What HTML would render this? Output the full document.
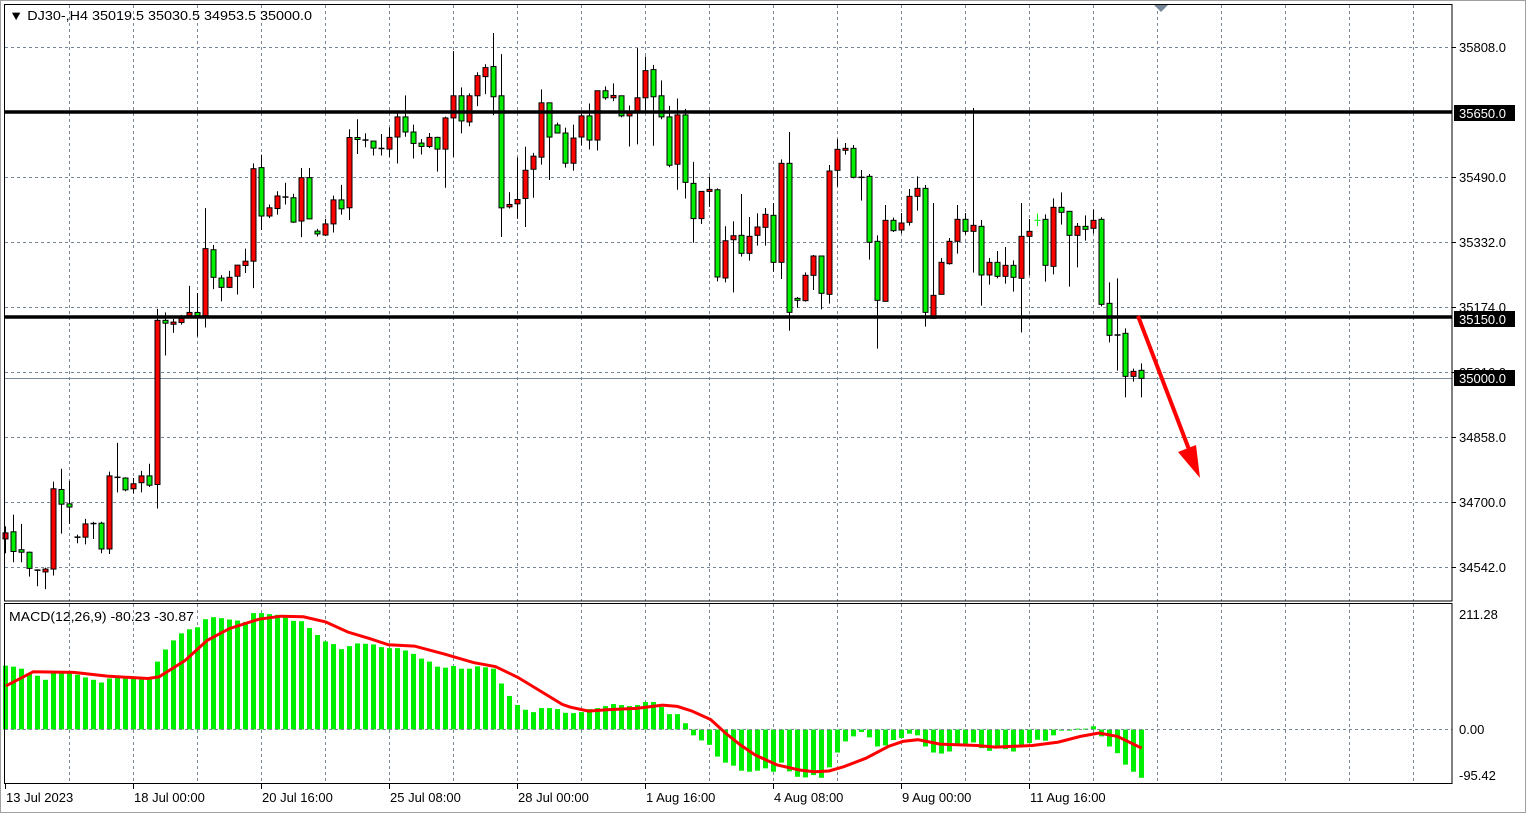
<!DOCTYPE html>
<html><head><meta charset="utf-8"><style>
html,body{margin:0;padding:0;background:#fff;}
svg{display:block;font-family:"Liberation Sans",sans-serif;}
</style></head><body>
<svg id="s" width="1526" height="813" xmlns="http://www.w3.org/2000/svg">
<rect x="0" y="0" width="1526" height="813" fill="#fff"/>
<rect x="0.5" y="0.5" width="1525" height="812" fill="none" stroke="#a0a0a0"/>
<g id="grid" stroke="#778899" stroke-dasharray="3,3" stroke-width="1"></g>
<line x1="5" y1="378.5" x2="1452" y2="378.5" stroke="#778899" stroke-width="1"/>
<g id="candles"></g>
<line x1="5" y1="112" x2="1452" y2="112" stroke="#000" stroke-width="3.5"/>
<line x1="5" y1="317" x2="1452" y2="317" stroke="#000" stroke-width="3.5"/>
<g id="macd"></g>
<line x1="5" y1="729.5" x2="1452" y2="729.5" stroke="#778899" stroke-dasharray="3,3"/>
<polyline id="sig" fill="none" stroke="#ff0000" stroke-width="3"/>
<line x1="1138" y1="316" x2="1190" y2="452" stroke="#ff0000" stroke-width="4"/>
<polygon points="1200,478 1178,452 1196,445" fill="#ff0000"/>
<rect x="4.5" y="4.5" width="1447.5" height="596.5" fill="none" stroke="#000"/>
<rect x="4.5" y="603.5" width="1447.5" height="180" fill="none" stroke="#000"/>
<polygon points="1154,5 1168,5 1161,12" fill="#778899"/>
<g id="labels" font-size="13" fill="#000"></g>
<text x="9" y="20" font-size="13" textLength="303" lengthAdjust="spacingAndGlyphs">▼  DJ30-,H4  35019.5 35030.5 34953.5 35000.0</text>
<text x="9" y="621" font-size="13" textLength="185" lengthAdjust="spacingAndGlyphs">MACD(12,26,9) -80.23 -30.87</text>
</svg>
<script>
const NS="http://www.w3.org/2000/svg";
function el(p,t,a,txt){const e=document.createElementNS(NS,t);for(const k in a)e.setAttribute(k,a[k]);if(txt!==undefined)e.textContent=txt;document.getElementById(p)?document.getElementById(p).appendChild(e):p.appendChild(e);return e;}
for(let x=69;x<1452;x+=64) el("grid","line",{x1:x+.5,y1:5,x2:x+.5,y2:601});
for(let y=47;y<600;y+=65) el("grid","line",{x1:5,y1:y+.5,x2:1452,y2:y+.5});
for(let x=69;x<1452;x+=64) el("grid","line",{x1:x+.5,y1:604,x2:x+.5,y2:783});
const s1=[["r",1403,1420,1385,1460],["g",1400,1455,1352,1485],["g",1450,1457,1378,1485],["g",1457,1502,1455,1525],["d",1507,1507,1505,1552],["r",1504,1512,1500,1560],["r",1280,1504,1260,1522],["g",1282,1323,1224,1405],["g",1322,1331,1258,1378],["d",1415,1415,1408,1432],["r",1378,1415,1364,1435],["d",1377,1377,1372,1420],["g",1376,1448,1372,1460],["r",1244,1448,1232,1462],["d",1248,1248,1152,1290],["g",1250,1283,1248,1287],["r",1266,1280,1250,1293],["r",1244,1263,1230,1290],["g",1244,1270,1210,1275],["r",810,1268,778,1335],["g",810,818,788,908],["r",815,821,806,845],["r",805,816,795,822],["r",788,797,714,800],["g",788,797,734,855],["r",610,797,497,830],["g",613,690,600,723],["g",692,718,684,757],["r",690,718,672,720],["r",656,687,656,738],["r",645,657,610,678],["r",387,645,372,720],["g",384,519,348,558],["r",496,519,487,525],["r",463,498,450,515],["d",466,466,426,487],["g",468,536,457,538],["r",412,533,385,578],["g",412,527,385,528],["g",561,569,555,576],["r",541,572,527,575],["r",474,541,462,565],["g",474,499,432,515],["r",300,496,277,530],["g",300,305,249,346],["d",307,307,288,327]];
const s2=[["g",331,352,331,374],["d",353,353,310,374],["r",320,355,290,378],["r",259,319,248,398],["g",259,304,195,318],["g",304,338,282,383],["g",337,347,325,371],["r",320,347,307,352],["g",320,355,318,422],["r",262,355,258,470],["r",196,262,63,378],["g",196,271,171,308],["r",196,274,189,287],["r",136,196,126,227],["r",112,139,102,191],["g",109,199,9,254],["g",196,530,72,617],["r",520,527,483,532],["r",505,518,380,563],["r",418,502,348,587],["r",376,415,366,500],["r",217,379,177,401],["g",217,319,217,447],["g",283,307,276,307],["g",307,397,291,410],["r",322,397,282,419],["r",256,319,250,344],["g",256,328,219,356],["r",181,328,181,359],["g",181,202,168,208],["r",195,202,159,212],["g",196,256,196,260],["r",248,256,225,347],["r",202,242,54,341],["r",121,202,79,244],["g",118,199,104,345],["g",196,259,150,266],["g",259,403,226,409],["r",253,400,204,476],["g",253,454,235,502],["g",457,562,393,634],["r",481,562,481,578],["r",475,481,437,527],["g",476,736,472,749],["r",628,739,585,752],["r",613,625,570,782]];
const s3=[["g",406,460,282,470],["r",409,460,351,482],["r",381,406,340,437],["r",343,382,324,437],["g",346,487,309,515],["r",190,487,178,537],["g",190,637,96,692],["g",595,601,591,623],["r",526,602,517,605],["r",468,526,465,570],["g",468,580,468,628],["r",213,583,195,611],["r",148,211,117,260],["r",145,150,129,164],["g",145,232,135,235],["d",232,232,210,302],["g",229,427,222,479],["g",424,601,406,746],["r",361,604,315,604],["g",361,392,353,396],["r",369,390,339,400],["r",289,367,267,377],["r",265,289,229,332],["g",265,637,255,680],["r",586,655,309,655],["r",487,583,474,583],["r",424,491,414,494],["r",358,424,315,461],["g",358,394,339,404],["r",376,394,24,518],["g",379,525,360,617],["r",487,525,474,554],["g",487,529,453,535],["r",496,529,441,551],["g",496,532,481,575],["r",409,535,309,697],["r",394,409,357,526],["x",361,361,341,378],["g",358,496,343,545],["r",322,499,295,523],["g",322,337,277,374],["g",334,406,334,560],["r",379,406,369,502],["g",379,388,346,422],["r",361,385,328,400],["g",358,613,352,619],["g",610,706,547,727],["d",705,705,535,812],["g",700,829,685,892],["r",814,829,806,845],["g",811,835,790,892]];
const all=[];
s1.forEach(c=>all.push(c.map((v,j)=>j?30+v/2.79:v)));
s2.forEach(c=>all.push(c.map((v,j)=>j?30+v/2.98:v)));
s3.forEach(c=>all.push(c.map((v,j)=>j?100+v/3:v)));
const cg=document.getElementById("candles");
all.forEach((c,i)=>{
 const x=Math.round(5.3+8*i)+.5;
 if(c[0]==="x"){el(cg,"line",{x1:x,y1:c[3],x2:x,y2:c[4],stroke:"#00ee00"});el(cg,"line",{x1:x-3,y1:c[1],x2:x+3,y2:c[1],stroke:"#00ee00"});return;}
 el(cg,"line",{x1:x,y1:c[3],x2:x,y2:c[4],stroke:"#000"});
 if(c[0]==="d"){el(cg,"line",{x1:x-3,y1:c[1],x2:x+3,y2:c[1],stroke:"#000","stroke-width":1.5});return;}
 const h=Math.max(c[2]-c[1],2);
 el(cg,"rect",{x:x-2.5,y:c[1],width:5,height:h,fill:c[0]==="r"?"#ff0000":"#00ee00",stroke:"#000","stroke-width":1});
});
const m1=[195,198,204,220,225,237,218,218,218,222,230,237,245,233,230,230,230,232,235,183,147,120,99,87,81,57,51,54,58,61,65,39,39,42,44,48,62,63,83,104,123,131,146,137,129,130,132,140,143,143,150,160,174,183,198,201,196,204,204,197,200,204,248,285,312,326,333,321,321,324,335];
const m2=[336,333,324,321,315,309,312,315,312,303,303,318,339,339,366,402,417,430,465,483,492,507,510,507,500,510,483,509,525,527,520,528,497,453,420,405,392,408,435,432,416,410,397,402,435,453,456,450,430,428,423,440,448,440,443,450,432,425,415,418,402,388,388,382,382,375,405,435,455,489,510,528];
const mv=m1.concat(m2);
const mg=document.getElementById("macd");
const zero=729.5;
mv.forEach((v,i)=>{
 if(i>142)return;
 const y=600+v/2.97;const x=Math.round(5.3+8*i);
 const t=Math.min(y,zero),h=Math.abs(y-zero);
 el(mg,"rect",{x:x-2,y:t,width:5,height:Math.max(h,1),fill:"#00ee00"});
});
const sg1=[[16,255],[90,213],[200,215],[290,226],[400,233],[430,228],[500,180],[560,120],[620,85],[700,57],[760,48],[820,50],[880,65],[940,95],[1000,115],[1050,133],[1120,137],[1200,160],[1280,186],[1340,198],[1400,230],[1460,270],[1520,310]];
const sg2=[[0,318],[50,330],[100,326],[180,322],[250,312],[290,316],[330,330],[380,355],[420,395],[460,430],[500,460],[560,490],[620,505],[660,510],[700,508],[740,495],[800,470],[860,435],[900,420],[940,415],[1000,428],[1100,432],[1150,437],[1250,432],[1320,422],[1380,405],[1430,395],[1480,405],[1545,440]];
const pts=sg1.map(p=>[p[0]/2.703,600+p[1]/2.97]).concat(sg2.map(p=>[570+p[0]/2.703,600+p[1]/2.97]));
document.getElementById("sig").setAttribute("points",pts.map(p=>p[0].toFixed(1)+","+p[1].toFixed(1)).join(" "));
const L=document.getElementById("labels");
[["35808.0",47],["35490.0",177],["35332.0",242],["35174.0",307],["35016.0",372],["34858.0",437],["34700.0",502],["34542.0",567]].forEach(a=>{
 el(L,"line",{x1:1452,y1:a[1]+.5,x2:1456,y2:a[1]+.5,stroke:"#000"});
 el(L,"text",{x:1459,y:a[1]+5},a[0]);});
[["35650.0",113],["35150.0",319],["35000.0",378]].forEach(a=>{
 el(L,"rect",{x:1454,y:a[1]-8,width:61,height:16,fill:"#000"});
 el(L,"text",{x:1459,y:a[1]+5,fill:"#fff"},a[0]);});
[["211.28",614],["0.00",729],["-95.42",775]].forEach(a=>{el(L,"text",{x:1459,y:a[1]+5},a[0]);});
[["13 Jul 2023",5],["18 Jul 00:00",133],["20 Jul 16:00",261],["25 Jul 08:00",389],["28 Jul 00:00",517],["1 Aug 16:00",645],["4 Aug 08:00",773],["9 Aug 00:00",901],["11 Aug 16:00",1029]].forEach(a=>{
 el(L,"line",{x1:a[1]+.5,y1:784,x2:a[1]+.5,y2:789,stroke:"#000"});
 el(L,"text",{x:a[1]+1,y:802},a[0]);});
</script>
</body></html>
